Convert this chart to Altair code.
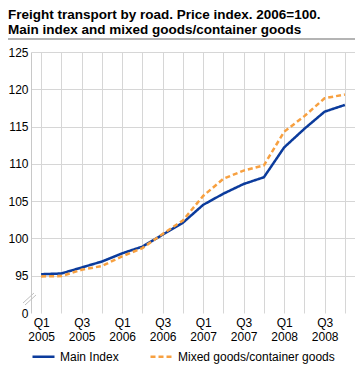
import json
import altair as alt
import pandas as pd

# ---- data ----
quarters = list(range(16))
tick_labels = ["Q1 2005", "", "Q3 2005", "", "Q1 2006", "", "Q3 2006", "",
               "Q1 2007", "", "Q3 2007", "", "Q1 2008", "", "Q3 2008", ""]
main_index = [95.2, 95.3, 96.1, 96.9, 98.0, 98.9, 100.5, 102.1,
              104.5, 106.0, 107.3, 108.2, 112.2, 114.7, 117.0, 117.9]
mixed_goods = [94.9, 94.95, 95.8, 96.3, 97.6, 98.7, 100.6, 102.4,
               105.7, 108.0, 109.1, 109.8, 114.3, 116.4, 118.8, 119.3]
series_names = ["Main Index", "Mixed goods/container goods"]
y_tick_values = [90, 95, 100, 105, 110, 115, 120, 125]
y_tick_labels = ["0", "95", "100", "105", "110", "115", "120", "125"]
title_lines = ["Freight transport by road. Price index. 2006=100.",
               "Main index and mixed goods/container goods"]

FONT = "Liberation Sans"
W, H = 324, 261

rows = []
for q, v in zip(quarters, main_index):
    rows.append({"q": q, "value": v, "series": series_names[0]})
for q, v in zip(quarters, mixed_goods):
    rows.append({"q": q, "value": v, "series": series_names[1]})
df = pd.DataFrame(rows)

x_label_expr = "split(" + json.dumps(tick_labels) + "[datum.value], ' ')"
y_label_expr = json.dumps(y_tick_labels) + "[(datum.value - 90) / 5]"

lines = alt.Chart(df).mark_line(strokeWidth=2.5).encode(
    x=alt.X("q:Q",
            scale=alt.Scale(domain=[-0.5, 15.5], nice=False, zero=False),
            axis=alt.Axis(values=quarters, labelExpr=x_label_expr, grid=True,
                          ticks=False, domain=False, labelPadding=4,
                          labelFontSize=12, labelLineHeight=14.5, labelAngle=0,
                          labelFont=FONT, labelColor="#000000",
                          gridColor="#d6d6d6", labelBaseline="top",
                          labelFlush=False, labelOverlap=False, title=None)),
    y=alt.Y("value:Q",
            scale=alt.Scale(domain=[90, 125], nice=False, zero=False),
            axis=alt.Axis(values=y_tick_values, labelExpr=y_label_expr, grid=True,
                          gridColor={"condition": {"test": "datum.value == 90", "value": "transparent"},
                                     "value": "#d6d6d6"},
                          ticks=False, domain=True, domainColor="#c8c8c8",
                          labelPadding=3, labelFontSize=12, labelFont=FONT,
                          labelColor="#000000", title=None)),
    color=alt.Color("series:N",
                    scale=alt.Scale(domain=series_names, range=["#0b3b9c", "#f7a040"]),
                    legend=alt.Legend(orient="none", legendX=0, legendY=292,
                                      direction="horizontal", title=None,
                                      symbolType="stroke", symbolSize=484,
                                      symbolStrokeWidth=2.5, labelFontSize=12,
                                      labelFont=FONT, labelColor="#000000",
                                      labelOffset=4, columnPadding=26)),
    strokeDash=alt.StrokeDash("series:N",
                              scale=alt.Scale(domain=series_names, range=[[1, 0], [5, 3]]),
                              legend=None),
)

one = pd.DataFrame({"a": [0]})

title = alt.Chart(one).mark_text(
    align="left", baseline="alphabetic", font=FONT, fontSize=13.5,
    fontWeight="bold", lineHeight=14.5, color="#000000"
).encode(x=alt.value(-23), y=alt.value(-33), text=alt.value(title_lines))

sep = alt.Chart(one).mark_rule(color="#b4b4b4", strokeWidth=2).encode(
    x=alt.value(-23), x2=alt.value(W), y=alt.value(-13))

brk1 = alt.Chart(one).mark_rule(color="#c0c0c0", strokeWidth=1).encode(
    x=alt.value(-8), x2=alt.value(3), y=alt.value(251), y2=alt.value(241))
brk2 = alt.Chart(one).mark_rule(color="#c0c0c0", strokeWidth=1).encode(
    x=alt.value(-6), x2=alt.value(5), y=alt.value(253), y2=alt.value(243))

chart = alt.layer(lines, title, sep, brk1, brk2).properties(
    width=W, height=H,
    autosize=alt.AutoSizeParams(type="none"),
    padding={"left": 23, "top": 44, "right": 0, "bottom": 54},
).configure_view(stroke=None)

chart.save("out.html", embed_options={"renderer": "svg", "actions": False})
